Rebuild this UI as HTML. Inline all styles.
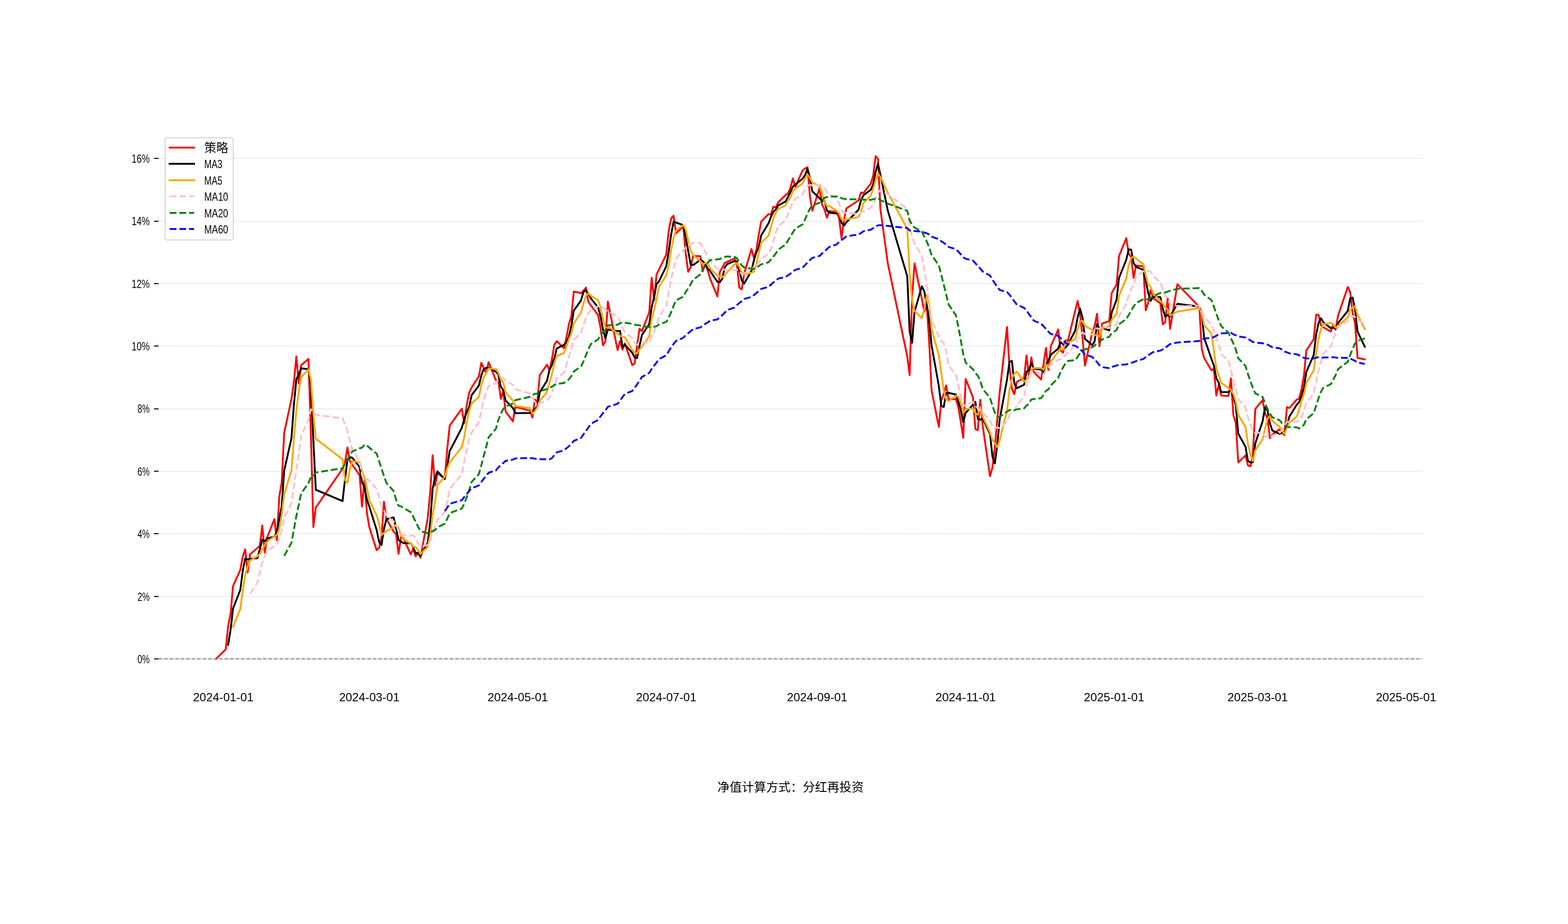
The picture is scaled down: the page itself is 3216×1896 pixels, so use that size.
<!DOCTYPE html>
<html><head><meta charset="utf-8"><title>chart</title>
<style>html,body{margin:0;padding:0;background:#fff;width:3216px;height:1896px;overflow:hidden;font-family:"Liberation Sans",sans-serif}</style>
</head><body>
<svg width="3216" height="1896" viewBox="0 0 3216 1896" style="position:absolute;left:0;top:0;will-change:transform">
<title>策略净值走势与均线 MA3 MA5 MA10 MA20 MA60</title><desc>净值计算方式：分红再投资</desc>
<rect width="3216" height="1896" fill="#fff"/>
<g fill="none" stroke-width="2">
<line x1="325.2" y1="1352" x2="2917.0" y2="1352" stroke="#f4f4f4"/>
<line x1="326" y1="1352" x2="2917" y2="1352" stroke="#e5e5e5" stroke-dasharray="1 1"/>
<line x1="325.2" y1="1224" x2="2917.0" y2="1224" stroke="#f4f4f4"/>
<line x1="326" y1="1224" x2="2917" y2="1224" stroke="#e5e5e5" stroke-dasharray="1 1"/>
<line x1="325.2" y1="1095" x2="2917.0" y2="1095" stroke="#f4f4f4"/>
<line x1="326" y1="1095" x2="2917" y2="1095" stroke="#e5e5e5" stroke-dasharray="1 1"/>
<line x1="325.2" y1="967" x2="2917.0" y2="967" stroke="#f4f4f4"/>
<line x1="326" y1="967" x2="2917" y2="967" stroke="#e5e5e5" stroke-dasharray="1 1"/>
<line x1="325.2" y1="839" x2="2917.0" y2="839" stroke="#f4f4f4"/>
<line x1="326" y1="839" x2="2917" y2="839" stroke="#e5e5e5" stroke-dasharray="1 1"/>
<line x1="325.2" y1="710" x2="2917.0" y2="710" stroke="#f4f4f4"/>
<line x1="326" y1="710" x2="2917" y2="710" stroke="#e5e5e5" stroke-dasharray="1 1"/>
<line x1="325.2" y1="582" x2="2917.0" y2="582" stroke="#f4f4f4"/>
<line x1="326" y1="582" x2="2917" y2="582" stroke="#e5e5e5" stroke-dasharray="1 1"/>
<line x1="325.2" y1="454" x2="2917.0" y2="454" stroke="#f4f4f4"/>
<line x1="326" y1="454" x2="2917" y2="454" stroke="#e5e5e5" stroke-dasharray="1 1"/>
<line x1="325.2" y1="325" x2="2917.0" y2="325" stroke="#f4f4f4"/>
<line x1="326" y1="325" x2="2917" y2="325" stroke="#e5e5e5" stroke-dasharray="1 1"/>
</g>
<g fill="none" stroke-width="3.75" stroke-linejoin="round">
<polyline stroke="#ff0000" stroke-linecap="square" points="443.0,1352.1 463.0,1332.3 468.0,1284.4 473.0,1259.1 478.0,1202.5 492.9,1169.2 497.9,1141.9 502.9,1127.3 507.9,1174.6 512.9,1137.4 527.9,1124.3 532.9,1120.0 537.9,1078.2 542.9,1134.2 547.9,1102.9 562.8,1065.1 567.8,1108.5 572.8,1019.3 577.8,990.1 582.8,889.0 597.8,818.3 602.8,784.9 607.8,731.3 612.8,786.9 617.7,749.5 632.7,736.4 637.7,892.0 642.7,1081.5 647.7,1041.5 702.6,961.7 707.6,948.9 712.6,918.2 717.6,946.5 722.6,953.6 737.6,975.2 742.5,1039.5 747.5,984.9 752.5,1051.6 757.5,1081.9 772.5,1129.0 777.5,1124.4 782.5,1102.2 787.5,1029.4 792.5,1064.8 807.4,1091.0 812.4,1096.1 817.4,1136.5 822.4,1102.2 827.4,1104.2 842.4,1137.5 847.4,1126.4 852.4,1141.6 857.4,1134.5 862.4,1144.5 877.3,1063.0 882.3,1010.5 887.3,934.2 892.3,996.3 897.3,971.0 912.3,982.2 917.3,921.5 922.3,873.4 947.2,838.6 952.2,868.3 957.2,831.5 962.2,806.3 967.2,795.2 982.2,772.3 987.2,744.4 992.1,755.1 997.1,765.2 1002.1,743.0 1017.1,780.3 1022.1,780.3 1027.1,818.4 1032.1,802.2 1037.1,844.7 1052.0,864.5 1057.0,834.6 1087.0,842.7 1092.0,856.8 1097.0,819.8 1102.0,825.4 1107.0,769.8 1121.9,748.2 1126.9,760.1 1131.9,737.5 1136.9,707.6 1141.9,700.1 1156.9,714.6 1161.9,691.4 1166.9,665.1 1171.9,648.9 1176.8,598.4 1191.8,601.4 1196.8,596.4 1201.8,590.3 1206.8,619.6 1211.8,626.7 1226.8,646.9 1231.8,673.2 1236.8,708.6 1241.7,700.7 1246.7,618.8 1266.7,718.3 1271.7,699.7 1276.7,717.5 1281.7,704.8 1296.7,749.2 1301.6,746.2 1306.6,708.8 1311.6,674.4 1316.6,679.5 1331.6,641.1 1336.6,569.9 1341.6,615.8 1346.6,563.2 1351.6,553.1 1366.5,522.3 1371.5,473.8 1376.5,448.5 1381.5,442.5 1386.5,478.8 1401.5,464.7 1406.5,521.3 1411.5,557.7 1416.5,548.6 1421.5,525.3 1436.4,525.7 1441.4,556.7 1446.4,541.5 1451.4,554.6 1456.4,571.8 1471.4,608.2 1476.4,557.7 1481.4,549.6 1486.4,539.5 1491.3,537.5 1506.3,530.4 1511.3,541.5 1516.3,590.0 1521.3,594.1 1526.3,561.7 1541.3,510.8 1546.3,529.4 1551.2,514.2 1556.2,480.9 1561.2,454.6 1576.2,439.4 1581.2,440.4 1586.2,424.3 1591.2,425.3 1596.2,415.2 1611.2,400.2 1616.1,397.1 1621.1,386.0 1626.1,366.4 1631.1,384.0 1646.1,349.6 1651.1,345.6 1656.1,343.2 1661.1,402.2 1666.1,432.5 1681.0,386.0 1686.0,419.4 1691.0,429.5 1696.0,446.7 1701.0,433.1 1716.0,434.5 1721.0,447.7 1726.0,489.1 1731.0,451.7 1736.0,427.5 1760.9,411.3 1765.9,395.1 1770.9,396.1 1785.9,376.9 1790.9,360.8 1795.9,320.3 1800.8,326.4 1805.8,429.5 1820.8,539.7 1860.8,731.5 1865.7,769.9 1870.7,609.2 1875.7,540.4 1890.7,613.2 1895.7,639.5 1900.7,625.3 1905.7,700.1 1910.7,800.9 1925.6,876.1 1930.6,821.1 1935.6,808.5 1940.6,790.8 1945.6,819.1 1960.6,819.1 1965.6,835.2 1970.6,865.6 1975.6,898.5 1980.6,777.6 1995.5,815.0 2000.5,880.7 2005.5,882.7 2010.5,820.5 2015.5,873.6 2030.5,977.1 2035.5,959.6 2040.5,916.1 2045.5,860.5 2050.4,804.9 2065.4,670.9 2070.4,752.3 2075.4,797.8 2080.4,808.9 2085.4,783.7 2100.4,775.6 2105.4,729.1 2110.4,772.6 2115.3,733.1 2120.3,763.5 2135.3,778.6 2140.3,747.3 2145.3,713.9 2150.3,759.4 2155.3,710.6 2170.3,676.2 2175.2,719.1 2180.2,723.7 2185.2,698.4 2190.2,699.4 2205.2,637.8 2210.2,617.6 2215.2,643.9 2220.2,692.4 2225.2,750.0 2240.1,682.3 2245.1,669.1 2250.1,643.9 2255.1,710.6 2260.1,664.1 2275.1,659.0 2280.1,601.4 2290.1,584.2 2295.1,525.6 2310.0,488.8 2315.0,520.5 2320.0,527.6 2325.0,570.5 2330.0,544.8 2345.0,546.4 2350.0,636.8 2355.0,620.6 2360.0,594.3 2364.9,611.5 2379.9,622.6 2384.9,665.7 2389.9,661.0 2394.9,612.5 2399.9,674.6 2414.9,583.2 2459.8,629.7 2464.8,715.7 2469.8,734.9 2484.8,760.1 2489.7,756.1 2494.7,811.7 2499.7,789.4 2504.7,811.7 2519.7,812.7 2524.7,776.3 2529.7,852.4 2534.7,867.6 2539.7,949.0 2554.6,934.3 2559.6,954.9 2564.6,956.9 2569.6,933.9 2574.6,839.3 2589.6,821.1 2594.6,847.4 2599.6,859.5 2604.6,898.9 2609.6,891.8 2624.5,880.7 2629.5,888.8 2634.5,892.8 2639.5,835.2 2644.5,837.2 2659.5,820.1 2664.5,818.0 2669.5,798.8 2674.4,770.5 2679.4,719.3 2694.4,695.9 2699.4,645.7 2704.4,646.0 2709.4,667.6 2714.4,671.6 2729.4,680.5 2734.4,665.1 2739.3,676.4 2744.3,648.1 2764.3,588.8 2769.3,599.6 2774.3,643.0 2779.3,662.9 2784.3,734.3 2799.2,737.4"/>
<polyline stroke="#000000" stroke-linecap="square" points="468.0,1322.9 473.0,1291.9 478.0,1248.7 492.9,1210.3 497.9,1171.2 502.9,1146.1 507.9,1147.9 512.9,1146.5 527.9,1145.4 532.9,1127.3 537.9,1107.5 542.9,1110.8 547.9,1105.1 562.8,1100.7 567.8,1092.1 572.8,1064.3 577.8,1039.3 582.8,966.1 597.8,899.1 602.8,830.7 607.8,778.2 612.8,767.7 617.7,755.9 632.7,757.6 637.7,792.7 642.7,903.3 647.7,1005.0 702.6,1028.2 707.6,984.0 712.6,942.9 717.6,937.9 722.6,939.4 737.6,958.4 742.5,989.4 747.5,999.9 752.5,1025.3 757.5,1039.5 772.5,1087.5 777.5,1111.8 782.5,1118.5 787.5,1085.3 792.5,1065.4 807.4,1061.7 812.4,1084.0 817.4,1107.9 822.4,1111.6 827.4,1114.3 842.4,1114.6 847.4,1122.7 852.4,1135.2 857.4,1134.2 862.4,1140.2 877.3,1114.0 882.3,1072.6 887.3,1002.6 892.3,980.3 897.3,967.2 912.3,983.2 917.3,958.2 922.3,925.7 947.2,877.8 952.2,860.1 957.2,846.2 962.2,835.4 967.2,811.0 982.2,791.2 987.2,770.6 992.1,757.2 997.1,754.9 1002.1,754.4 1017.1,762.8 1022.1,767.9 1027.1,793.0 1032.1,800.3 1037.1,821.8 1052.0,837.1 1057.0,847.9 1087.0,847.3 1092.0,844.7 1097.0,839.8 1102.0,834.0 1107.0,805.0 1121.9,781.2 1126.9,759.4 1131.9,748.6 1136.9,735.1 1141.9,715.1 1156.9,707.4 1161.9,702.0 1166.9,690.4 1171.9,668.5 1176.8,637.5 1191.8,616.3 1196.8,598.7 1201.8,596.1 1206.8,602.1 1211.8,612.2 1226.8,631.1 1231.8,648.9 1236.8,676.2 1241.7,694.2 1246.7,676.0 1266.7,679.3 1271.7,678.9 1276.7,711.8 1281.7,707.3 1296.7,723.8 1301.6,733.4 1306.6,734.7 1311.6,709.8 1316.6,687.6 1331.6,665.0 1336.6,630.2 1341.6,608.9 1346.6,583.0 1351.6,577.4 1366.5,546.2 1371.5,516.4 1376.5,481.5 1381.5,454.9 1386.5,456.6 1401.5,462.0 1406.5,488.3 1411.5,514.6 1416.5,542.5 1421.5,543.9 1436.4,533.2 1441.4,535.9 1446.4,541.3 1451.4,550.9 1456.4,556.0 1471.4,578.2 1476.4,579.2 1481.4,571.8 1486.4,548.9 1491.3,542.2 1506.3,535.8 1511.3,536.5 1516.3,554.0 1521.3,575.2 1526.3,581.9 1541.3,555.5 1546.3,534.0 1551.2,518.1 1556.2,508.2 1561.2,483.2 1576.2,458.3 1581.2,444.8 1586.2,434.7 1591.2,430.0 1596.2,421.6 1611.2,413.5 1616.1,404.2 1621.1,394.4 1626.1,383.2 1631.1,378.8 1646.1,366.7 1651.1,359.7 1656.1,346.1 1661.1,363.7 1666.1,392.6 1681.0,406.9 1686.0,412.6 1691.0,411.6 1696.0,431.8 1701.0,436.4 1716.0,438.1 1721.0,438.4 1726.0,457.1 1731.0,462.8 1736.0,456.1 1760.9,430.2 1765.9,411.3 1770.9,400.8 1785.9,389.4 1790.9,377.9 1795.9,352.7 1800.8,335.8 1805.8,358.7 1820.8,431.8 1860.8,566.9 1865.7,680.3 1870.7,703.5 1875.7,639.8 1890.7,587.6 1895.7,597.7 1900.7,626.0 1905.7,655.0 1910.7,708.8 1925.6,792.4 1930.6,832.7 1935.6,835.2 1940.6,806.8 1945.6,806.1 1960.6,809.6 1965.6,824.4 1970.6,839.9 1975.6,866.4 1980.6,847.2 1995.5,830.4 2000.5,824.4 2005.5,859.5 2010.5,861.3 2015.5,858.9 2030.5,890.4 2035.5,936.8 2040.5,950.9 2045.5,912.0 2050.4,860.5 2065.4,778.8 2070.4,742.7 2075.4,740.4 2080.4,786.4 2085.4,796.8 2100.4,789.4 2105.4,762.8 2110.4,759.1 2115.3,744.9 2120.3,756.4 2135.3,758.4 2140.3,763.1 2145.3,746.6 2150.3,740.2 2155.3,728.0 2170.3,715.4 2175.2,701.9 2180.2,706.3 2185.2,713.7 2190.2,707.2 2205.2,678.6 2210.2,651.6 2215.2,633.1 2220.2,651.3 2225.2,695.4 2240.1,708.2 2245.1,700.5 2250.1,665.1 2255.1,674.5 2260.1,672.8 2275.1,677.9 2280.1,641.5 2290.1,614.9 2295.1,570.4 2310.0,532.9 2315.0,511.6 2320.0,512.3 2325.0,539.5 2330.0,547.6 2345.0,553.9 2350.0,576.0 2355.0,601.3 2360.0,617.2 2364.9,608.8 2379.9,609.5 2384.9,633.3 2389.9,649.8 2394.9,646.4 2399.9,649.4 2414.9,623.4 2459.8,629.2 2464.8,642.9 2469.8,693.4 2484.8,736.9 2489.7,750.4 2494.7,776.0 2499.7,785.7 2504.7,804.3 2519.7,804.6 2524.7,800.2 2529.7,813.8 2534.7,832.1 2539.7,889.7 2554.6,917.0 2559.6,946.1 2564.6,948.7 2569.6,948.6 2574.6,910.0 2589.6,864.7 2594.6,835.9 2599.6,842.6 2604.6,868.6 2609.6,883.4 2624.5,890.5 2629.5,887.1 2634.5,887.5 2639.5,872.3 2644.5,855.1 2659.5,830.8 2664.5,825.1 2669.5,812.3 2674.4,795.8 2679.4,762.9 2694.4,728.6 2699.4,687.0 2704.4,662.5 2709.4,653.1 2714.4,661.7 2729.4,673.2 2734.4,672.4 2739.3,674.0 2744.3,663.2 2764.3,637.8 2769.3,612.2 2774.3,610.5 2779.3,635.2 2784.3,680.1 2799.2,711.5"/>
<polyline stroke="#ffa500" stroke-linecap="square" points="478.0,1286.1 492.9,1249.5 497.9,1211.4 502.9,1180.0 507.9,1163.1 512.9,1150.1 527.9,1141.1 532.9,1136.7 537.9,1126.9 542.9,1118.8 547.9,1111.9 562.8,1100.1 567.8,1097.8 572.8,1086.0 577.8,1057.2 582.8,1014.4 597.8,965.0 602.8,900.3 607.8,842.7 612.8,802.1 617.7,774.2 632.7,757.8 637.7,779.2 642.7,849.3 647.7,900.2 702.6,942.6 707.6,985.1 712.6,990.4 717.6,963.4 722.6,945.8 737.6,948.5 742.5,966.6 747.5,979.9 752.5,1001.0 757.5,1026.6 772.5,1057.4 777.5,1074.4 782.5,1097.8 787.5,1093.4 792.5,1089.9 807.4,1082.3 812.4,1076.7 817.4,1083.6 822.4,1098.1 827.4,1106.0 842.4,1115.3 847.4,1121.4 852.4,1122.4 857.4,1128.8 862.4,1136.9 877.3,1122.0 882.3,1098.8 887.3,1057.3 892.3,1029.7 897.3,995.0 912.3,978.8 917.3,961.0 922.3,948.9 947.2,917.3 952.2,896.8 957.2,866.7 962.2,843.6 967.2,828.0 982.2,814.7 987.2,789.9 992.1,774.6 997.1,766.4 1002.1,756.0 1017.1,757.6 1022.1,764.8 1027.1,777.4 1032.1,784.9 1037.1,805.2 1052.0,822.0 1057.0,832.9 1087.0,837.7 1092.0,848.7 1097.0,843.7 1102.0,835.9 1107.0,822.9 1121.9,804.0 1126.9,784.7 1131.9,768.2 1136.9,744.6 1141.9,730.7 1156.9,724.0 1161.9,710.2 1166.9,695.8 1171.9,684.0 1176.8,663.7 1191.8,641.1 1196.8,622.1 1201.8,607.1 1206.8,601.2 1211.8,606.9 1226.8,616.0 1231.8,631.4 1236.8,655.0 1241.7,671.2 1246.7,669.7 1266.7,683.9 1271.7,689.2 1276.7,691.0 1281.7,691.8 1296.7,717.9 1301.6,723.5 1306.6,725.3 1311.6,716.7 1316.6,711.6 1331.6,690.0 1336.6,654.7 1341.6,636.1 1346.6,613.9 1351.6,588.6 1366.5,564.9 1371.5,545.7 1376.5,512.2 1381.5,488.0 1386.5,473.2 1401.5,461.7 1406.5,471.2 1411.5,493.0 1416.5,514.2 1421.5,523.5 1436.4,535.7 1441.4,542.8 1446.4,539.6 1451.4,540.8 1456.4,550.1 1471.4,566.6 1476.4,566.8 1481.4,568.4 1486.4,565.4 1491.3,558.5 1506.3,542.9 1511.3,539.7 1516.3,547.8 1521.3,558.7 1526.3,563.5 1541.3,559.6 1546.3,557.2 1551.2,542.0 1556.2,519.4 1561.2,498.0 1576.2,483.7 1581.2,465.9 1586.2,447.9 1591.2,436.8 1596.2,428.9 1611.2,421.1 1616.1,412.4 1621.1,404.8 1626.1,393.0 1631.1,386.8 1646.1,376.6 1651.1,366.3 1656.1,357.8 1661.1,364.9 1666.1,374.6 1681.0,381.9 1686.0,396.7 1691.0,413.9 1696.0,422.8 1701.0,422.9 1716.0,432.6 1721.0,438.3 1726.0,450.2 1731.0,451.2 1736.0,450.1 1760.9,445.5 1765.9,434.9 1770.9,416.3 1785.9,401.4 1790.9,388.0 1795.9,369.9 1800.8,356.1 1805.8,362.8 1820.8,395.3 1860.8,469.5 1865.7,559.4 1870.7,615.9 1875.7,638.1 1890.7,652.8 1895.7,634.4 1900.7,605.5 1905.7,623.7 1910.7,675.8 1925.6,728.4 1930.6,764.7 1935.6,801.3 1940.6,819.5 1945.6,823.1 1960.6,811.7 1965.6,814.5 1970.6,825.9 1975.6,847.5 1980.6,839.2 1995.5,838.4 2000.5,847.5 2005.5,850.9 2010.5,835.3 2015.5,854.5 2030.5,886.9 2035.5,902.7 2040.5,909.4 2045.5,917.4 2050.4,903.6 2065.4,842.4 2070.4,800.9 2075.4,777.3 2080.4,767.0 2085.4,762.7 2100.4,783.7 2105.4,779.0 2110.4,774.0 2115.3,758.8 2120.3,754.8 2135.3,755.4 2140.3,759.0 2145.3,747.3 2150.3,752.5 2155.3,742.0 2170.3,721.5 2175.2,715.8 2180.2,717.8 2185.2,705.6 2190.2,703.4 2205.2,695.7 2210.2,675.4 2215.2,659.4 2220.2,658.2 2225.2,668.3 2240.1,677.2 2245.1,687.5 2250.1,687.5 2255.1,691.2 2260.1,674.0 2275.1,669.3 2280.1,655.8 2290.1,643.9 2295.1,606.9 2310.0,571.8 2315.0,544.1 2320.0,529.4 2325.0,526.6 2330.0,530.4 2345.0,542.0 2350.0,565.2 2355.0,583.8 2360.0,588.6 2364.9,601.9 2379.9,617.2 2384.9,623.0 2389.9,631.0 2394.9,634.7 2399.9,647.3 2414.9,639.4 2459.8,632.2 2464.8,643.1 2469.8,667.6 2484.8,684.7 2489.7,719.3 2494.7,755.7 2499.7,770.4 2504.7,785.8 2519.7,796.3 2524.7,800.4 2529.7,808.5 2534.7,824.1 2539.7,851.6 2554.6,875.9 2559.6,911.6 2564.6,932.5 2569.6,945.8 2574.6,923.9 2589.6,901.2 2594.6,879.7 2599.6,860.2 2604.6,853.2 2609.6,863.7 2624.5,875.7 2629.5,883.9 2634.5,890.6 2639.5,877.9 2644.5,867.0 2659.5,854.8 2664.5,840.7 2669.5,821.9 2674.4,808.9 2679.4,785.4 2694.4,760.5 2699.4,726.1 2704.4,695.5 2709.4,674.9 2714.4,665.4 2729.4,662.3 2734.4,666.2 2739.3,672.2 2744.3,668.4 2764.3,651.8 2769.3,635.6 2774.3,631.2 2779.3,628.5 2784.3,645.7 2799.2,675.4"/>
<polyline stroke="#ffc0cb" stroke-dasharray="13.875 6" points="512.9,1218.1 527.9,1195.3 532.9,1174.1 537.9,1153.5 542.9,1141.0 547.9,1131.0 562.8,1120.6 567.8,1117.3 572.8,1106.4 577.8,1088.0 582.8,1063.2 597.8,1032.5 602.8,999.0 607.8,964.3 612.8,929.6 617.7,894.3 632.7,861.4 637.7,839.8 642.7,846.0 647.7,851.1 702.6,858.4 707.6,871.5 712.6,884.8 717.6,906.3 722.6,923.0 737.6,945.6 742.5,975.9 747.5,985.1 752.5,982.2 757.5,986.2 772.5,1002.9 777.5,1020.5 782.5,1038.9 787.5,1047.2 792.5,1058.3 807.4,1069.9 812.4,1075.5 817.4,1090.7 822.4,1095.7 827.4,1098.0 842.4,1098.8 847.4,1099.0 852.4,1103.0 857.4,1113.5 862.4,1121.4 877.3,1118.6 882.3,1110.1 887.3,1089.9 892.3,1079.3 897.3,1066.0 912.3,1050.4 917.3,1029.9 922.3,1003.1 947.2,973.5 952.2,945.9 957.2,922.8 962.2,902.3 967.2,888.4 982.2,866.0 987.2,843.4 992.1,820.7 997.1,805.0 1002.1,792.0 1017.1,786.2 1022.1,777.4 1027.1,776.0 1032.1,775.6 1037.1,780.6 1052.0,789.8 1057.0,798.8 1087.0,807.6 1092.0,816.8 1097.0,824.4 1102.0,828.9 1107.0,827.9 1121.9,820.9 1126.9,816.7 1131.9,805.9 1136.9,790.3 1141.9,776.8 1156.9,764.0 1161.9,747.5 1166.9,732.0 1171.9,714.3 1176.8,697.2 1191.8,682.5 1196.8,666.2 1201.8,651.4 1206.8,642.6 1211.8,635.3 1226.8,628.5 1231.8,626.7 1236.8,631.1 1241.7,636.2 1246.7,638.3 1266.7,650.0 1271.7,660.3 1276.7,673.0 1281.7,681.5 1296.7,693.8 1301.6,703.7 1306.6,707.3 1311.6,703.8 1316.6,701.7 1331.6,703.9 1336.6,689.1 1341.6,680.7 1346.6,665.3 1351.6,650.1 1366.5,627.4 1371.5,600.2 1376.5,574.2 1381.5,551.0 1386.5,530.9 1401.5,513.3 1406.5,508.4 1411.5,502.6 1416.5,501.1 1421.5,498.3 1436.4,498.7 1441.4,507.0 1446.4,516.3 1451.4,527.5 1456.4,536.8 1471.4,551.2 1476.4,554.8 1481.4,554.0 1486.4,553.1 1491.3,554.3 1506.3,554.7 1511.3,553.2 1516.3,558.1 1521.3,562.0 1526.3,561.0 1541.3,551.3 1546.3,548.4 1551.2,544.9 1556.2,539.0 1561.2,530.8 1576.2,521.7 1581.2,511.5 1586.2,495.0 1591.2,478.1 1596.2,463.4 1611.2,452.4 1616.1,439.2 1621.1,426.3 1626.1,414.9 1631.1,407.8 1646.1,398.9 1651.1,389.4 1656.1,381.3 1661.1,379.0 1666.1,380.7 1681.0,379.3 1686.0,381.5 1691.0,385.8 1696.0,393.9 1701.0,398.8 1716.0,407.3 1721.0,417.5 1726.0,432.1 1731.0,437.0 1736.0,436.5 1760.9,439.0 1765.9,436.6 1770.9,433.3 1785.9,426.3 1790.9,419.1 1795.9,407.7 1800.8,395.5 1805.8,389.6 1820.8,398.4 1860.8,428.8 1865.7,464.6 1870.7,486.0 1875.7,500.4 1890.7,524.1 1895.7,551.9 1900.7,582.5 1905.7,619.8 1910.7,657.0 1925.6,690.6 1930.6,699.6 1935.6,703.4 1940.6,721.6 1945.6,749.5 1960.6,770.0 1965.6,789.6 1970.6,813.6 1975.6,833.5 1980.6,831.1 1995.5,825.0 2000.5,831.0 2005.5,838.4 2010.5,841.4 2015.5,846.9 2030.5,862.7 2035.5,875.1 2040.5,880.1 2045.5,876.3 2050.4,879.1 2065.4,864.7 2070.4,851.8 2075.4,843.3 2080.4,842.2 2085.4,833.2 2100.4,813.0 2105.4,790.0 2110.4,775.6 2115.3,762.9 2120.3,758.8 2135.3,769.5 2140.3,769.0 2145.3,760.6 2150.3,755.7 2155.3,748.4 2170.3,738.4 2175.2,737.4 2180.2,732.5 2185.2,729.1 2190.2,722.7 2205.2,708.6 2210.2,695.6 2215.2,688.6 2220.2,681.9 2225.2,685.8 2240.1,686.4 2245.1,681.5 2250.1,673.5 2255.1,674.7 2260.1,671.1 2275.1,673.3 2280.1,671.6 2290.1,665.7 2295.1,649.0 2310.0,622.9 2315.0,606.7 2320.0,592.6 2325.0,585.2 2330.0,568.7 2345.0,556.9 2350.0,554.7 2355.0,556.6 2360.0,557.6 2364.9,566.2 2379.9,579.6 2384.9,594.1 2389.9,607.4 2394.9,611.6 2399.9,624.6 2414.9,628.3 2459.8,627.6 2464.8,637.1 2469.8,651.1 2484.8,666.0 2489.7,679.4 2494.7,694.0 2499.7,706.8 2504.7,726.7 2519.7,740.5 2524.7,759.8 2529.7,782.1 2534.7,797.3 2539.7,818.7 2554.6,836.1 2559.6,856.0 2564.6,870.5 2569.6,885.0 2574.6,887.7 2589.6,888.6 2594.6,895.7 2599.6,896.4 2604.6,899.5 2609.6,893.8 2624.5,888.4 2629.5,881.8 2634.5,875.4 2639.5,865.6 2644.5,865.3 2659.5,865.2 2664.5,862.3 2669.5,856.3 2674.4,843.4 2679.4,826.2 2694.4,807.7 2699.4,783.4 2704.4,758.7 2709.4,741.9 2714.4,725.4 2729.4,711.4 2734.4,696.1 2739.3,683.9 2744.3,671.6 2764.3,658.6 2769.3,649.0 2774.3,648.7 2779.3,650.4 2784.3,657.0 2799.2,663.6"/>
<polyline stroke="#008000" stroke-dasharray="13.875 6" points="582.8,1140.6 597.8,1113.9 602.8,1086.6 607.8,1058.9 612.8,1035.3 617.7,1012.6 632.7,991.0 637.7,978.5 642.7,976.2 647.7,969.6 702.6,960.8 707.6,952.0 712.6,941.9 717.6,935.3 722.6,926.3 737.6,919.9 742.5,918.6 747.5,912.5 752.5,914.1 757.5,918.7 772.5,930.7 777.5,946.0 782.5,961.8 787.5,976.7 792.5,990.6 807.4,1007.7 812.4,1025.7 817.4,1037.9 822.4,1039.0 827.4,1042.1 842.4,1050.9 847.4,1059.8 852.4,1070.9 857.4,1080.3 862.4,1089.9 877.3,1094.3 882.3,1092.8 887.3,1090.3 892.3,1087.5 897.3,1082.0 912.3,1074.6 917.3,1064.5 922.3,1053.0 947.2,1043.5 952.2,1033.7 957.2,1020.7 962.2,1006.2 967.2,989.1 982.2,972.7 987.2,954.7 992.1,935.5 997.1,917.5 1002.1,897.5 1017.1,879.8 1022.1,861.6 1027.1,849.4 1032.1,839.0 1037.1,834.5 1052.0,827.9 1057.0,821.1 1087.0,814.1 1092.0,810.9 1097.0,808.2 1102.0,807.5 1107.0,802.6 1121.9,798.5 1126.9,796.1 1131.9,793.3 1136.9,790.0 1141.9,787.8 1156.9,785.8 1161.9,782.1 1166.9,778.2 1171.9,771.6 1176.8,762.5 1191.8,751.7 1196.8,741.4 1201.8,728.7 1206.8,716.4 1211.8,706.1 1226.8,696.3 1231.8,687.1 1236.8,681.5 1241.7,675.3 1246.7,667.7 1266.7,666.2 1271.7,663.2 1276.7,662.2 1281.7,662.1 1296.7,664.5 1301.6,666.1 1306.6,667.0 1311.6,667.5 1316.6,669.0 1331.6,671.1 1336.6,669.5 1341.6,670.5 1346.6,669.2 1351.6,665.8 1366.5,660.6 1371.5,652.0 1376.5,640.7 1381.5,627.4 1386.5,616.3 1401.5,608.6 1406.5,598.8 1411.5,591.7 1416.5,583.2 1421.5,574.2 1436.4,563.1 1441.4,553.6 1446.4,545.2 1451.4,539.2 1456.4,533.9 1471.4,532.2 1476.4,531.6 1481.4,528.3 1486.4,527.1 1491.3,526.3 1506.3,526.7 1511.3,530.1 1516.3,537.2 1521.3,544.8 1526.3,548.9 1541.3,551.2 1546.3,551.6 1551.2,549.4 1556.2,546.1 1561.2,542.5 1576.2,538.2 1581.2,532.4 1586.2,526.5 1591.2,520.1 1596.2,512.2 1611.2,501.8 1616.1,493.8 1621.1,485.6 1626.1,477.0 1631.1,469.3 1646.1,460.3 1651.1,450.5 1656.1,438.1 1661.1,428.5 1666.1,422.1 1681.0,415.8 1686.0,410.3 1691.0,406.1 1696.0,404.4 1701.0,403.3 1716.0,403.1 1721.0,403.4 1726.0,406.7 1731.0,408.0 1736.0,408.6 1760.9,409.2 1765.9,409.1 1770.9,409.6 1785.9,410.1 1790.9,408.9 1795.9,407.5 1800.8,406.5 1805.8,410.8 1820.8,417.7 1860.8,432.6 1865.7,451.8 1870.7,461.3 1875.7,466.9 1890.7,475.2 1895.7,485.5 1900.7,495.1 1905.7,507.7 1910.7,523.3 1925.6,544.5 1930.6,564.2 1935.6,584.0 1940.6,603.8 1945.6,624.9 1960.6,647.1 1965.6,670.8 1970.6,698.0 1975.6,726.6 1980.6,744.1 1995.5,757.8 2000.5,765.3 2005.5,770.9 2010.5,781.5 2015.5,798.2 2030.5,816.3 2035.5,832.4 2040.5,846.9 2045.5,854.9 2050.4,855.1 2065.4,844.9 2070.4,841.4 2075.4,840.9 2080.4,841.8 2085.4,840.0 2100.4,837.8 2105.4,832.5 2110.4,827.9 2115.3,819.6 2120.3,818.9 2135.3,817.1 2140.3,810.4 2145.3,802.0 2150.3,798.9 2155.3,790.8 2170.3,775.7 2175.2,763.7 2180.2,754.1 2185.2,746.0 2190.2,740.7 2205.2,739.1 2210.2,732.3 2215.2,724.6 2220.2,718.8 2225.2,717.1 2240.1,712.4 2245.1,709.4 2250.1,703.0 2255.1,701.9 2260.1,696.9 2275.1,690.9 2280.1,683.6 2290.1,677.1 2295.1,665.5 2310.0,654.4 2315.0,646.6 2320.0,637.0 2325.0,629.3 2330.0,621.7 2345.0,614.0 2350.0,614.0 2355.0,614.1 2360.0,611.6 2364.9,607.6 2379.9,601.2 2384.9,600.4 2389.9,600.0 2394.9,598.4 2399.9,596.6 2414.9,592.6 2459.8,591.1 2464.8,596.8 2469.8,604.4 2484.8,616.1 2489.7,629.5 2494.7,644.0 2499.7,657.1 2504.7,669.2 2519.7,682.6 2524.7,694.1 2529.7,704.8 2534.7,717.2 2539.7,734.9 2554.6,751.1 2559.6,767.7 2564.6,782.2 2569.6,795.9 2574.6,807.2 2589.6,814.5 2594.6,827.8 2599.6,839.2 2604.6,848.4 2609.6,856.2 2624.5,862.3 2629.5,868.9 2634.5,873.0 2639.5,875.3 2644.5,876.5 2659.5,876.9 2664.5,879.0 2669.5,876.3 2674.4,871.5 2679.4,860.0 2694.4,848.1 2699.4,832.6 2704.4,817.1 2709.4,803.7 2714.4,795.4 2729.4,788.3 2734.4,779.2 2739.3,770.1 2744.3,757.5 2764.3,742.4 2769.3,728.3 2774.3,716.0 2779.3,704.5 2784.3,699.5 2799.2,694.5"/>
<polyline stroke="#0000ff" stroke-dasharray="13.875 6" points="912.3,1048.6 917.3,1041.5 922.3,1033.8 947.2,1026.4 952.2,1019.9 957.2,1013.7 962.2,1007.6 967.2,1001.9 982.2,995.9 987.2,988.8 992.1,982.4 997.1,976.4 1002.1,970.1 1017.1,965.2 1022.1,959.3 1027.1,954.5 1032.1,950.1 1037.1,945.7 1052.0,943.2 1057.0,940.6 1087.0,939.8 1092.0,940.4 1097.0,941.0 1102.0,942.6 1107.0,942.3 1121.9,942.3 1126.9,942.7 1131.9,940.1 1136.9,933.9 1141.9,928.2 1156.9,924.1 1161.9,919.8 1166.9,915.6 1171.9,910.6 1176.8,904.7 1191.8,898.5 1196.8,891.1 1201.8,884.5 1206.8,877.3 1211.8,869.7 1226.8,861.7 1231.8,854.1 1236.8,847.6 1241.7,842.1 1246.7,834.7 1266.7,828.5 1271.7,821.9 1276.7,814.9 1281.7,808.3 1296.7,802.3 1301.6,795.8 1306.6,788.9 1311.6,781.1 1316.6,773.5 1331.6,765.1 1336.6,756.9 1341.6,750.3 1346.6,744.1 1351.6,736.7 1366.5,729.3 1371.5,720.8 1376.5,712.9 1381.5,705.7 1386.5,699.7 1401.5,693.0 1406.5,687.8 1411.5,683.7 1416.5,679.6 1421.5,675.5 1436.4,671.8 1441.4,668.5 1446.4,664.8 1451.4,661.6 1456.4,658.2 1471.4,655.3 1476.4,650.9 1481.4,646.7 1486.4,641.6 1491.3,636.2 1506.3,631.1 1511.3,626.1 1516.3,621.7 1521.3,617.9 1526.3,613.5 1541.3,609.2 1546.3,605.5 1551.2,601.4 1556.2,597.2 1561.2,592.9 1576.2,588.6 1581.2,584.0 1586.2,579.6 1591.2,575.6 1596.2,571.7 1611.2,568.4 1616.1,565.0 1621.1,561.5 1626.1,557.7 1631.1,553.8 1646.1,549.2 1651.1,544.2 1656.1,538.7 1661.1,533.6 1666.1,529.1 1681.0,525.2 1686.0,520.2 1691.0,515.7 1696.0,511.2 1701.0,506.7 1716.0,501.4 1721.0,496.5 1726.0,492.8 1731.0,489.1 1736.0,484.9 1760.9,481.1 1765.9,478.2 1770.9,474.5 1785.9,471.4 1790.9,468.2 1795.9,464.8 1800.8,462.4 1805.8,462.0 1820.8,463.7 1860.8,467.9 1865.7,473.0 1870.7,474.4 1875.7,474.1 1890.7,475.2 1895.7,477.1 1900.7,478.8 1905.7,481.2 1910.7,485.5 1925.6,490.8 1930.6,495.0 1935.6,498.3 1940.6,502.2 1945.6,506.7 1960.6,511.4 1965.6,516.3 1970.6,521.9 1975.6,527.9 1980.6,531.0 1995.5,534.7 2000.5,540.0 2005.5,546.2 2010.5,551.0 2015.5,557.0 2030.5,565.3 2035.5,573.7 2040.5,581.7 2045.5,588.7 2050.4,595.0 2065.4,599.1 2070.4,604.7 2075.4,611.4 2080.4,618.2 2085.4,624.8 2100.4,631.7 2105.4,637.4 2110.4,644.5 2115.3,650.9 2120.3,657.9 2135.3,664.2 2140.3,669.4 2145.3,674.9 2150.3,680.6 2155.3,685.3 2170.3,689.1 2175.2,693.9 2180.2,698.7 2185.2,702.9 2190.2,706.4 2205.2,709.5 2210.2,712.6 2215.2,716.5 2220.2,721.5 2225.2,727.4 2240.1,732.4 2245.1,737.6 2250.1,743.0 2255.1,749.4 2260.1,753.3 2275.1,755.3 2280.1,753.1 2290.1,750.0 2295.1,748.6 2310.0,747.8 2315.0,746.2 2320.0,744.4 2325.0,743.4 2330.0,740.9 2345.0,736.6 2350.0,732.6 2355.0,729.3 2360.0,725.7 2364.9,722.7 2379.9,719.5 2384.9,716.9 2389.9,714.0 2394.9,709.8 2399.9,706.0 2414.9,702.8 2459.8,699.7 2464.8,697.0 2469.8,694.5 2484.8,693.5 2489.7,691.5 2494.7,688.8 2499.7,685.9 2504.7,684.2 2519.7,683.4 2524.7,682.9 2529.7,686.0 2534.7,687.9 2539.7,690.4 2554.6,692.5 2559.6,695.3 2564.6,698.4 2569.6,701.8 2574.6,702.9 2589.6,704.3 2594.6,705.7 2599.6,707.1 2604.6,709.6 2609.6,712.6 2624.5,714.6 2629.5,717.6 2634.5,721.2 2639.5,723.1 2644.5,725.0 2659.5,727.0 2664.5,729.0 2669.5,731.7 2674.4,734.3 2679.4,735.5 2694.4,735.6 2699.4,733.8 2704.4,733.2 2709.4,733.2 2714.4,733.7 2729.4,733.2 2734.4,733.2 2739.3,733.5 2744.3,734.3 2764.3,734.3 2769.3,735.6 2774.3,738.1 2779.3,740.5 2784.3,744.0 2799.2,746.7"/>
</g>
<line x1="325.2" y1="1352" x2="2917.0" y2="1352" stroke="#808080" stroke-width="2.125" stroke-dasharray="7.8625 3.4"/>
<g stroke="#000" stroke-width="2.1">
<line x1="316" y1="1352" x2="325.2" y2="1352"/>
<line x1="316" y1="1224" x2="325.2" y2="1224"/>
<line x1="316" y1="1095" x2="325.2" y2="1095"/>
<line x1="316" y1="967" x2="325.2" y2="967"/>
<line x1="316" y1="839" x2="325.2" y2="839"/>
<line x1="316" y1="710" x2="325.2" y2="710"/>
<line x1="316" y1="582" x2="325.2" y2="582"/>
<line x1="316" y1="454" x2="325.2" y2="454"/>
<line x1="316" y1="325" x2="325.2" y2="325"/>
</g>
<g font-family="Liberation Sans, sans-serif" font-size="24.6" fill="#000">
<text x="307" y="1360.9" text-anchor="end" textLength="25" lengthAdjust="spacingAndGlyphs">0%</text>
<text x="307" y="1232.9" text-anchor="end" textLength="25" lengthAdjust="spacingAndGlyphs">2%</text>
<text x="307" y="1103.9" text-anchor="end" textLength="25" lengthAdjust="spacingAndGlyphs">4%</text>
<text x="307" y="975.9" text-anchor="end" textLength="25" lengthAdjust="spacingAndGlyphs">6%</text>
<text x="307" y="846.9" text-anchor="end" textLength="25" lengthAdjust="spacingAndGlyphs">8%</text>
<text x="307" y="718.9" text-anchor="end" textLength="37" lengthAdjust="spacingAndGlyphs">10%</text>
<text x="307" y="590.9" text-anchor="end" textLength="37" lengthAdjust="spacingAndGlyphs">12%</text>
<text x="307" y="461.9" text-anchor="end" textLength="37" lengthAdjust="spacingAndGlyphs">14%</text>
<text x="307" y="333.9" text-anchor="end" textLength="37" lengthAdjust="spacingAndGlyphs">16%</text>
<text x="457.9" y="1438.8" text-anchor="middle" textLength="124" lengthAdjust="spacingAndGlyphs">2024-01-01</text>
<text x="757.4" y="1438.8" text-anchor="middle" textLength="124" lengthAdjust="spacingAndGlyphs">2024-03-01</text>
<text x="1062.0" y="1438.8" text-anchor="middle" textLength="124" lengthAdjust="spacingAndGlyphs">2024-05-01</text>
<text x="1366.5" y="1438.8" text-anchor="middle" textLength="124" lengthAdjust="spacingAndGlyphs">2024-07-01</text>
<text x="1676.0" y="1438.8" text-anchor="middle" textLength="124" lengthAdjust="spacingAndGlyphs">2024-09-01</text>
<text x="1980.5" y="1438.8" text-anchor="middle" textLength="124" lengthAdjust="spacingAndGlyphs">2024-11-01</text>
<text x="2285.0" y="1438.8" text-anchor="middle" textLength="124" lengthAdjust="spacingAndGlyphs">2025-01-01</text>
<text x="2579.5" y="1438.8" text-anchor="middle" textLength="124" lengthAdjust="spacingAndGlyphs">2025-03-01</text>
<text x="2884.0" y="1438.8" text-anchor="middle" textLength="124" lengthAdjust="spacingAndGlyphs">2025-05-01</text>
<rect x="338.6" y="282.7" width="139.8" height="209.7" rx="4.5" ry="4.5" fill="#fff" fill-opacity="0.8" stroke="#cccccc" stroke-opacity="0.8" stroke-width="2.2"/>
<line x1="346" y1="302.9" x2="400" y2="302.9" stroke="#ff0000" stroke-width="3.75"/>
<line x1="346" y1="336.0" x2="400" y2="336.0" stroke="#000000" stroke-width="3.75"/>
<text x="419" y="344.8" textLength="37" lengthAdjust="spacingAndGlyphs">MA3</text>
<line x1="346" y1="369.9" x2="400" y2="369.9" stroke="#ffa500" stroke-width="3.75"/>
<text x="419" y="378.7" textLength="37" lengthAdjust="spacingAndGlyphs">MA5</text>
<line x1="348" y1="402.9" x2="398" y2="402.9" stroke="#ffc0cb" stroke-width="3.75" stroke-dasharray="13.875 6"/>
<text x="419" y="411.7" textLength="49" lengthAdjust="spacingAndGlyphs">MA10</text>
<line x1="348" y1="436.9" x2="398" y2="436.9" stroke="#008000" stroke-width="3.75" stroke-dasharray="13.875 6"/>
<text x="419" y="445.7" textLength="49" lengthAdjust="spacingAndGlyphs">MA20</text>
<line x1="348" y1="469.95" x2="398" y2="469.95" stroke="#0000ff" stroke-width="3.75" stroke-dasharray="13.875 6"/>
<text x="419" y="478.75" textLength="49" lengthAdjust="spacingAndGlyphs">MA60</text>
</g>
<g fill="#000">
<text x="419" y="312" font-size="24.6" font-family="&quot;Liberation Sans&quot;, &quot;Noto Sans CJK SC&quot;, sans-serif">策略</text>
<text x="1471.4" y="1624.2" font-size="25" font-family="&quot;Liberation Sans&quot;, &quot;Noto Sans CJK SC&quot;, sans-serif">净值计算方式：分红再投资</text>
</g>
</svg>
</body></html>
